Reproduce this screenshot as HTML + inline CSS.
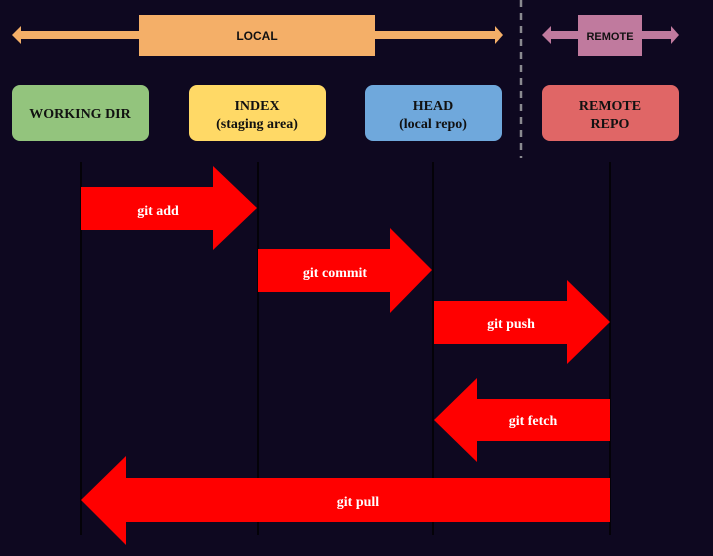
<!DOCTYPE html><html><head><style>
body{margin:0;background:#0e0820;}
svg{display:block}
text{font-family:"Liberation Serif",serif;font-weight:bold;text-anchor:middle}
</style></head><body>
<svg width="713" height="556" viewBox="0 0 713 556">
<rect width="713" height="556" fill="#0e0820"/>
<line x1="521" y1="0" x2="521" y2="158" stroke="#8a8a90" stroke-width="2.5" stroke-dasharray="7,6"/>
<!-- LOCAL -->
<polygon points="12,35 21,26 21,31 495,31 495,26 503,35 495,44 495,39 21,39 21,44" fill="#f4af68"/>
<rect x="139" y="15" width="236" height="41" fill="#f4af68"/>
<text x="257" y="40" font-size="12" fill="#111" font-weight="normal" style="font-family:'Liberation Sans Narrow','Liberation Sans',sans-serif">LOCAL</text>
<!-- REMOTE -->
<polygon points="542,35 551,26 551,31 671,31 671,26 679,35 671,44 671,39 551,39 551,44" fill="#c07a9e"/>
<rect x="578" y="15" width="64" height="41" fill="#c07a9e"/>
<text x="610" y="40" font-size="11" fill="#111" font-weight="normal" style="font-family:'Liberation Sans Narrow','Liberation Sans',sans-serif">REMOTE</text>
<!-- boxes -->
<rect x="12" y="85" width="137" height="56" rx="8" fill="#93c47d"/>
<rect x="189" y="85" width="137" height="56" rx="8" fill="#ffd966"/>
<rect x="365" y="85" width="137" height="56" rx="8" fill="#6fa8dc"/>
<rect x="542" y="85" width="137" height="56" rx="8" fill="#e06666"/>
<g font-size="14" fill="#111">
<text x="80" y="118">WORKING DIR</text>
<text x="257" y="110">INDEX</text><text x="257" y="128">(staging area)</text>
<text x="433" y="110">HEAD</text><text x="433" y="128">(local repo)</text>
<text x="610" y="110">REMOTE</text><text x="610" y="128">REPO</text>
</g>
<!-- vertical lines -->
<g stroke="#000" stroke-width="1.5">
<line x1="81" y1="162" x2="81" y2="535"/><line x1="258" y1="162" x2="258" y2="535"/>
<line x1="433" y1="162" x2="433" y2="535"/><line x1="610" y1="162" x2="610" y2="535"/>
</g>
<g fill="#ff0000">
<polygon points="81,187 213,187 213,166 257,208 213,250 213,230 81,230"/>
<polygon points="258,249 390,249 390,228 432,270 390,313 390,292 258,292"/>
<polygon points="434,301 567,301 567,280 610,322 567,364 567,344 434,344"/>
<polygon points="434,420 477,378 477,399 610,399 610,441 477,441 477,462"/>
<polygon points="81,500 126,456 126,478 610,478 610,522 126,522 126,545"/>
</g>
<g font-size="14" fill="#fff">
<text x="158" y="215">git add</text>
<text x="335" y="277">git commit</text>
<text x="511" y="328">git push</text>
<text x="533" y="425">git fetch</text>
<text x="358" y="506">git pull</text>
</g>
</svg></body></html>
